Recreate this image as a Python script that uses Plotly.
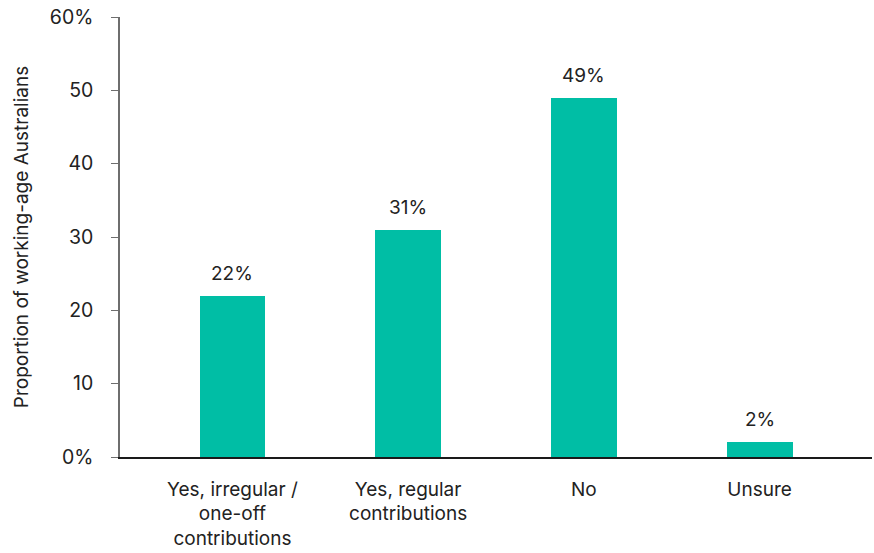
import plotly.graph_objects as go

# Survey responses: share of working-age Australians
categories = ["Yes, irregular /<br>one-off<br>contributions",
              "Yes, regular<br>contributions",
              "No",
              "Unsure"]
shares = [22, 31, 49, 2]
tick_values = [0, 10, 20, 30, 40, 50, 60]
tick_labels = ["0%", "10", "20", "30", "40", "50", "60%"]

BAR_COLOR = "#00BEA5"
TEXT_COLOR = "#222222"
FONT = "Inter, Lato, sans-serif"

x_pos = list(range(len(categories)))

fig = go.Figure(
    go.Bar(
        x=x_pos,
        y=shares,
        width=0.375,
        marker=dict(color=BAR_COLOR, line=dict(width=0)),
        hoverinfo="skip",
    )
)

# Value labels above each bar
for xi, v in zip(x_pos, shares):
    fig.add_annotation(
        x=xi, y=v, text=f"{v}%", showarrow=False,
        yanchor="bottom", yshift=9,
        font=dict(size=19, color=TEXT_COLOR, family=FONT),
    )

fig.update_layout(
    width=874,
    height=553,
    margin=dict(l=120, r=2, t=17, b=96),
    paper_bgcolor="white",
    plot_bgcolor="white",
    showlegend=False,
    font=dict(family=FONT, size=19, color=TEXT_COLOR),
    bargap=0,
)

fig.update_xaxes(
    range=[-0.64, 3.64],
    tickmode="array",
    tickvals=x_pos,
    ticktext=categories,
    showline=True,
    linecolor="#1a1a1a",
    linewidth=1.5,
    ticks="",
    ticklabelstandoff=14,
    showgrid=False,
    zeroline=False,
    tickfont=dict(size=19, color=TEXT_COLOR),
)

fig.update_yaxes(
    range=[0, 60],
    tickmode="array",
    tickvals=tick_values,
    ticktext=tick_labels,
    showline=True,
    linecolor="#6e6e6e",
    linewidth=1.5,
    ticks="outside",
    ticklen=7,
    tickwidth=1,
    tickcolor="#6e6e6e",
    ticklabelstandoff=14,
    showgrid=False,
    zeroline=False,
    tickfont=dict(size=19.5, color=TEXT_COLOR),
    title=dict(text="Proportion of working-age Australians",
               font=dict(size=19, color=TEXT_COLOR), standoff=16),
)

fig.write_html("out.html")
